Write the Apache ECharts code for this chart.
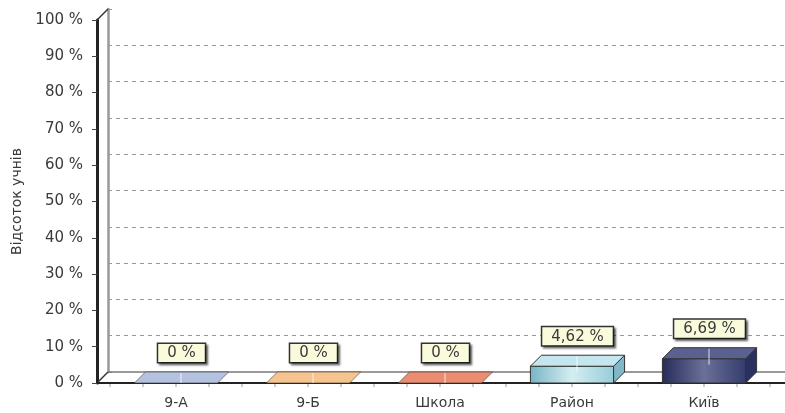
<!DOCTYPE html>
<html><head><meta charset="utf-8">
<script src="https://cdn.jsdelivr.net/npm/echarts@6/dist/echarts.min.js"></script>
<style>html,body{margin:0;padding:0;background:#fff}#c{width:785px;height:413px}</style>
</head><body><div id="c"></div>
<script>
// ---- data ----
const categories = ['9-А', '9-Б', 'Школа', 'Район', 'Київ'];
const values = [0, 0, 0, 4.62, 6.69];
const valueLabels = ['0 %', '0 %', '0 %', '4,62 %', '6,69 %'];
const yAxisName = 'Відсоток учнів';
const yMin = 0, yMax = 100, yStep = 10;

// ---- styles ----
const FONT = "'DejaVu Sans', Verdana, sans-serif";
const TXT = '#3a3a3a';
const DEPTH = 11;
const barPalette = [
  { front: ['#8fa0c4', '#c4d0ea', '#a2b2d4'], top: '#b4c2e0', side: '#8494b8' },
  { front: ['#e8a060', '#f8d0a0', '#eeb070'], top: '#f6c48e', side: '#d89050' },
  { front: ['#d86848', '#f4a088', '#e07858'], top: '#ec8c70', side: '#c85838' },
  { front: ['#78b4c4', '#d4eef2', '#98ccd8'], top: '#c4e6ee', side: '#80b8c8' },
  { front: ['#262c58', '#6a7098', '#343c6c'], top: '#5a6090', side: '#2a3060' }
];
function grad(cols) {
  return new echarts.graphic.LinearGradient(0, 0, 1, 0, [
    { offset: 0, color: cols[0] }, { offset: 0.5, color: cols[1] }, { offset: 1, color: cols[2] }
  ]);
}

function renderBar(params, api) {
  const i = api.value(0), v = api.value(1);
  const base = api.coord([i, 0]);
  const top = api.coord([i, v]);
  const bw = api.size([1, 0])[0];
  const hw = bw * 0.315;
  const cx = base[0];
  const xl = cx - hw, xr = cx + hw;
  const yt = top[1], yb = base[1];
  const p = barPalette[i];
  const D = DEPTH;
  const children = [];
  if (yb - yt > 0.5) {
    children.push({ type: 'rect', shape: { x: xl, y: yt, width: xr - xl, height: yb - yt },
      style: { fill: grad(p.front), stroke: '#333', lineWidth: 1 } });
    children.push({ type: 'polygon', shape: { points: [[xr, yt], [xr + D, yt - D], [xr + D, yb - D], [xr, yb]] },
      style: { fill: p.side, stroke: '#333', lineWidth: 1 } });
  }
  children.push({ type: 'polygon', shape: { points: [[xl, yt], [xr, yt], [xr + D, yt - D], [xl + D, yt - D]] },
    style: { fill: p.top, stroke: (yb - yt > 0.5) ? '#333' : 'rgba(60,60,60,0.6)', lineWidth: 1 } });
  children.push({ type: 'line', shape: { x1: cx + 5, y1: yt - D + 1, x2: cx + 5, y2: Math.min(yb, yt + 6) },
    style: { stroke: 'rgba(255,255,255,0.8)', lineWidth: 1 } });
  children.push({ type: 'text', x: cx + D / 2, y: yt - D - 10,
    style: { text: valueLabels[i], fill: TXT, font: '15px ' + FONT, align: 'center', verticalAlign: 'bottom',
      backgroundColor: '#fafadc', borderColor: '#333', borderWidth: 1.5, padding: [2, 9, 1, 9],
      shadowColor: 'rgba(0,0,0,0.45)', shadowOffsetX: 2, shadowOffsetY: 2, shadowBlur: 2 } });
  return { type: 'group', children };
}

function renderFrame(params, api) {
  const bw = api.size([1, 0])[0];
  const c0 = api.coord([0, yMin]);
  const gridLeft = c0[0] - bw / 2;
  const axisX = gridLeft - 13;
  const y0 = c0[1];
  const y100 = api.coord([0, yMax])[1];
  const W = api.getWidth();
  const D = DEPTH;
  const ch = [];
  ch.push({ type: 'line', shape: { x1: axisX + D, y1: y0 - D, x2: W, y2: y0 - D }, style: { stroke: '#777', lineWidth: 1.5 } });
  ch.push({ type: 'line', shape: { x1: axisX, y1: y0, x2: axisX + D, y2: y0 - D }, style: { stroke: '#333', lineWidth: 1.5 } });
  ch.push({ type: 'line', shape: { x1: axisX, y1: y100, x2: axisX + D, y2: y100 - D }, style: { stroke: '#333', lineWidth: 1.5 } });
  ch.push({ type: 'line', shape: { x1: axisX, y1: y0, x2: W, y2: y0 }, style: { stroke: '#222', lineWidth: 2 } });
  for (let k = 0; k <= categories.length * 4; k++) {
    const x = gridLeft + k * bw / 4;
    ch.push({ type: 'line', shape: { x1: x, y1: y0 + 1, x2: x, y2: y0 + 4 }, style: { stroke: '#999', lineWidth: 1 } });
  }
  return { type: 'group', children: ch };
}

const chart = echarts.init(document.getElementById('c'), null, { renderer: 'canvas' });
chart.setOption({
  backgroundColor: '#fff',
  animation: false,
  grid: [
    { left: 110, right: 15, top: 20, bottom: 30 },
    { left: 108, right: 0, top: 9, bottom: 41 }
  ],
  xAxis: [
    { gridIndex: 0, type: 'category', data: categories,
      axisLine: { show: false }, axisTick: { show: false },
      axisLabel: { color: TXT, fontSize: 14, fontFamily: FONT, margin: 13 } },
    { gridIndex: 1, type: 'value', show: false, min: 0, max: 1 }
  ],
  yAxis: [
    { gridIndex: 0, type: 'value', min: yMin, max: yMax, interval: yStep, offset: 13,
      name: yAxisName, nameLocation: 'middle', nameGap: 72, nameRotate: 90,
      nameTextStyle: { color: TXT, fontSize: 14, fontFamily: FONT },
      axisLine: { show: true, lineStyle: { color: '#222', width: 3 } },
      axisTick: { show: true, length: 5, lineStyle: { color: '#444' } },
      axisLabel: { formatter: '{value} %', color: TXT, fontSize: 15, fontFamily: FONT, margin: 14 },
      splitLine: { show: false } },
    { gridIndex: 1, type: 'value', min: yMin, max: yMax, interval: yStep,
      axisLine: { show: true, lineStyle: { color: '#999', width: 2.5 } },
      axisTick: { show: true, inside: true, length: 4, lineStyle: { color: '#999' } },
      axisLabel: { show: false },
      splitLine: { show: true, showMinLine: false, showMaxLine: false, lineStyle: { color: '#999', type: [4, 4], width: 1 } } }
  ],
  series: [
    { type: 'custom', xAxisIndex: 0, yAxisIndex: 0, z: 1, data: [[0]], renderItem: renderFrame, silent: true },
    { type: 'custom', xAxisIndex: 0, yAxisIndex: 0, z: 3,
      data: values.map((v, i) => [i, v]), renderItem: renderBar, encode: { x: 0, y: 1 } }
  ]
});
</script>
</body></html>
